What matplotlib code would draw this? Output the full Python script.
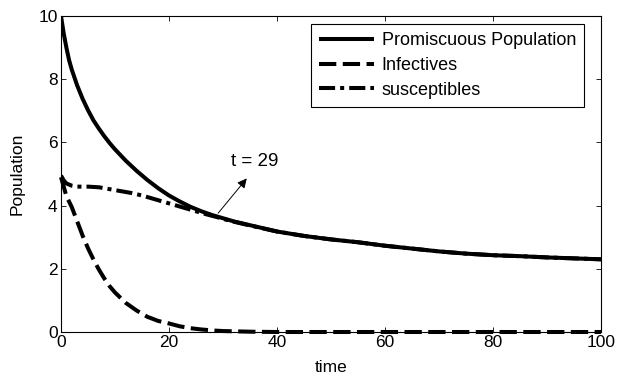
import matplotlib
matplotlib.use("Agg")
import matplotlib.pyplot as plt

plt.rcParams['font.family'] = ['Liberation Sans', 'DejaVu Sans']

# ---- data ----
t_total = [0, 0.5, 1, 1.5, 2, 3, 4, 5, 6, 7, 8, 9, 10, 12, 14, 16, 18, 20, 22, 24, 26,
           28, 30, 32, 35, 40, 45, 50, 55, 60, 65, 70, 75, 80, 85, 90, 95, 100]
total = [10, 9.45, 9.0, 8.6, 8.3, 7.8, 7.38, 7.02, 6.7, 6.44, 6.2, 5.98, 5.78, 5.42,
         5.1, 4.81, 4.55, 4.32, 4.13, 3.96, 3.82, 3.7, 3.6, 3.5, 3.38, 3.18, 3.04,
         2.93, 2.84, 2.73, 2.64, 2.55, 2.48, 2.43, 2.4, 2.36, 2.33, 2.3]

t_inf = [0, 1, 2, 3, 4, 5, 6, 7, 8, 9, 10, 12, 14, 16, 18, 20, 22, 24, 26, 28,
         30, 35, 40, 50, 60, 70, 80, 90, 100]
infectives = [4.9, 4.3, 3.95, 3.5, 3.05, 2.65, 2.3, 1.98, 1.7, 1.45, 1.25, 0.92,
              0.68, 0.48, 0.35, 0.27, 0.18, 0.12, 0.08, 0.05, 0.03, 0.01, 0.0,
              0.0, 0.0, 0.0, 0.0, 0.0, 0.0]

t_sus = [0, 0.5, 1, 2, 3, 5, 7, 9, 11, 13, 15, 17, 19, 21, 23, 25, 27, 29, 30, 32,
         35, 40, 45, 50, 55, 60, 65, 70, 75, 80, 85, 90, 95, 100]
susceptibles = [4.95, 4.8, 4.7, 4.63, 4.6, 4.6, 4.58, 4.52, 4.46, 4.4, 4.32, 4.22,
                4.12, 4.02, 3.92, 3.82, 3.72, 3.63, 3.58, 3.49, 3.37, 3.18, 3.04,
                2.93, 2.84, 2.73, 2.64, 2.55, 2.48, 2.43, 2.4, 2.36, 2.33, 2.3]

labels = ['Promiscuous Population', 'Infectives', 'susceptibles']
annot_text = 't = 29'
arrow_tail = (29.1, 3.76)
arrow_head = (34.4, 4.86)
text_pos = (31.4, 5.4)

xticks = [0, 20, 40, 60, 80, 100]
yticks = [0, 2, 4, 6, 8, 10]

# ---- figure ----
fig = plt.figure(figsize=(6.17, 3.81), dpi=100)
ax = fig.add_axes([61 / 617, (381 - 332) / 381, 540 / 617, 316 / 381])

lw = 2.9
ax.plot(t_total, total, color='k', lw=lw, label=labels[0], solid_capstyle='butt',
        zorder=3)
ax.plot(t_inf, infectives, color='k', lw=lw, label=labels[1],
        dashes=(4.3, 1.6), clip_on=False, zorder=3)
ax.plot(t_sus, susceptibles, color='k', lw=lw, label=labels[2],
        dashes=(4.0, 1.25, 1.0, 1.25), zorder=3)

ax.annotate('', xy=arrow_head, xytext=arrow_tail,
            arrowprops=dict(arrowstyle='-|>', lw=0.7, color='k',
                            mutation_scale=14, shrinkA=0, shrinkB=0))
ax.text(text_pos[0], text_pos[1], annot_text, fontsize=13.5, va='center', ha='left')

ax.set_xlim(0, 100)
ax.set_ylim(0, 10)
ax.set_xticks(xticks)
ax.set_yticks(yticks)
ax.tick_params(direction='in', top=True, right=True, length=3.6, width=0.6,
               labelsize=12.5, pad=2.5)
for s in ax.spines.values():
    s.set_linewidth(0.8)

ax.set_xlabel('time', fontsize=12.5, labelpad=7)
ax.set_ylabel('Population', fontsize=12.5, labelpad=10)

leg = ax.legend(loc='upper right', bbox_to_anchor=(0.969, 0.974), borderaxespad=0,
                fancybox=False, edgecolor='k', framealpha=1, fontsize=13,
                handlelength=3.0, handletextpad=0.45, labelspacing=0.42,
                borderpad=0.45)
leg.get_frame().set_linewidth(0.8)

fig.savefig('out.png', dpi=100)
